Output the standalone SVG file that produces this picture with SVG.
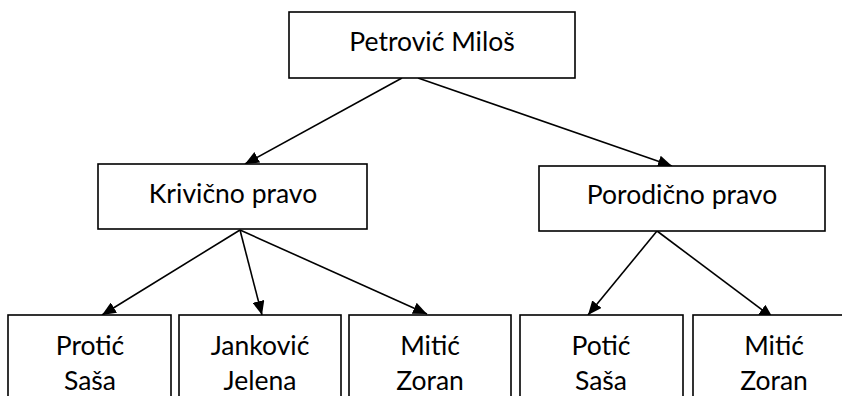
<svg xmlns="http://www.w3.org/2000/svg" width="842" height="396" viewBox="0 0 842 396">
<defs>
<style>
.box{fill:#fff;stroke:#000;stroke-width:1.6}
.t{font-family:Lato,"Open Sans","Liberation Sans",sans-serif;font-size:26.5px;fill:#000;text-anchor:middle}
.c{stroke:#000;stroke-width:1.6;fill:none;marker-end:url(#ah)}
</style>
<marker id="ah" viewBox="0 0 14 12" refX="14" refY="6" markerWidth="14" markerHeight="12" markerUnits="userSpaceOnUse" orient="auto">
<path d="M0,0 L14,6 L0,12 Z" fill="#000"/>
</marker>
</defs>
<rect width="842" height="396" fill="#fff"/>
<g id="connectors">
<line class="c" x1="402" y1="78" x2="245" y2="164"/>
<line class="c" x1="418" y1="78" x2="672" y2="166"/>
<line class="c" x1="240" y1="230" x2="102" y2="315"/>
<line class="c" x1="240" y1="230" x2="262" y2="315"/>
<line class="c" x1="240" y1="230" x2="427" y2="314"/>
<line class="c" x1="657" y1="231" x2="588" y2="315"/>
<line class="c" x1="657" y1="231" x2="773" y2="318"/>
</g>
<g id="n-petrovic">
<rect class="box" x="289" y="12" width="286" height="66"/>
<text class="t" x="432" y="51">Petrović Miloš</text>
</g>
<g id="n-krivicno">
<rect class="box" x="98" y="164" width="269" height="65"/>
<text class="t" x="233" y="203">Krivično pravo</text>
</g>
<g id="n-porodicno">
<rect class="box" x="539" y="166" width="286" height="65"/>
<text class="t" x="682" y="204">Porodično pravo</text>
</g>
<g id="n-protic">
<rect class="box" x="8" y="315" width="163" height="100"/>
<text class="t" x="90" y="355">Protić</text>
<text class="t" x="90" y="390">Saša</text>
</g>
<g id="n-jankovic">
<rect class="box" x="179" y="315" width="162" height="100"/>
<text class="t" x="260" y="355">Janković</text>
<text class="t" x="260" y="390">Jelena</text>
</g>
<g id="n-mitic1">
<rect class="box" x="349" y="315" width="162" height="100"/>
<text class="t" x="430" y="355">Mitić</text>
<text class="t" x="430" y="390">Zoran</text>
</g>
<g id="n-potic">
<rect class="box" x="520" y="315" width="163" height="100"/>
<text class="t" x="601" y="355">Potić</text>
<text class="t" x="601" y="390">Saša</text>
</g>
<g id="n-mitic2">
<rect class="box" x="693" y="315" width="163" height="100"/>
<text class="t" x="774" y="355">Mitić</text>
<text class="t" x="774" y="390">Zoran</text>
</g>
</svg>
